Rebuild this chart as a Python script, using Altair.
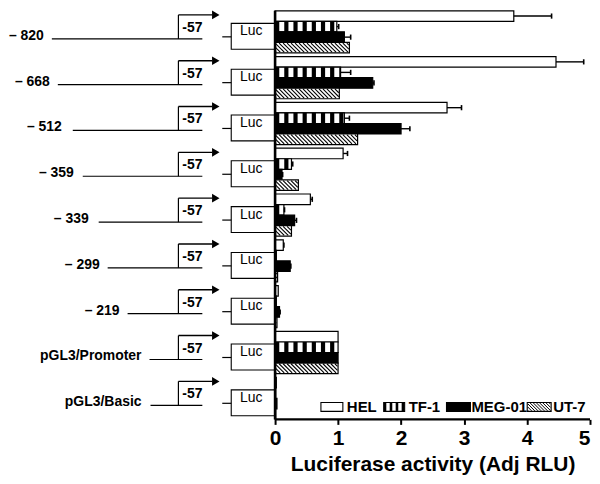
import altair as alt
import pandas as pd

# ---------------- data ----------------
rows = ["– 820", "– 668", "– 512", "– 359", "– 339", "– 299", "– 219",
        "pGL3/Promoter", "pGL3/Basic"]
series = ["HEL", "TF-1", "MEG-01", "UT-7"]
hel = [3.79, 4.46, 2.73, 1.08, 0.56, 0.13, 0.05, 1.00, 0.02]
tf1 = [0.98, 1.04, 1.10, 0.26, 0.14, 0.02, 0.02, 1.00, 0.01]
meg = [1.10, 1.55, 2.00, 0.11, 0.31, 0.24, 0.07, 1.00, 0.03]
ut7 = [1.18, 1.02, 1.31, 0.37, 0.26, 0.04, 0.03, 1.00, 0.01]
hel_err = [4.39, 4.90, 2.96, 1.15, 0.59, 0.14, None, None, None]
tf1_err = [1.01, 1.20, 1.18, 0.28, 0.15, None, None, None, None]
meg_err = [1.20, 1.57, 2.14, 0.12, 0.34, 0.25, 0.08, None, None]
ut7_err = [None] * 9
x_ticks = [0, 1, 2, 3, 4, 5]
x_title = "Luciferase activity (Adj RLU)"
promoter_label = "-57"
reporter_label = "Luc"

values = {"HEL": hel, "TF-1": tf1, "MEG-01": meg, "UT-7": ut7}
errors = {"HEL": hel_err, "TF-1": tf1_err, "MEG-01": meg_err, "UT-7": ut7_err}
fills = {"HEL": "white", "TF-1": "white", "MEG-01": "black", "UT-7": "white"}

# ---------------- layout ----------------
FONT = "Liberation Sans"
W, H = 584, 410
X_UNIT = 63.2          # px per unit
X0 = 268               # plot px of value 0
XMIN = -X0 / X_UNIT
XMAX = (W - X0) / X_UNIT
PI, PO = 0.08, 0.0
n = len(rows)
step = H / (n - PI + 2 * PO)
bw = step * (1 - PI)
sub = bw / len(series)


def v(px):  # plot px -> x value
    return (px - X0) / X_UNIT


def p(val):  # x value -> plot px
    return X0 + val * X_UNIT


def row_top(i):
    return step * (PO + i)


def row_c(i):
    return row_top(i) + bw / 2


bar_recs = []
for i, r in enumerate(rows):
    for s in series:
        bar_recs.append({"row": r, "series": s, "value": values[s][i]})
bars_df = pd.DataFrame(bar_recs)

rules = []
rects = []


def add_rule(x1, x2, y1, y2, sw):
    rules.append({"x": x1, "x2": x2, "y": y1, "y2": y2, "sw": sw})


def stripes(xa, xb, ya, yb, period=9.2, width=4.2):
    k = 0
    while True:
        s0 = xa + k * period
        if s0 >= xb:
            break
        s1 = min(s0 + width, xb)
        rects.append({"x": v(s0), "x2": v(s1), "y": ya, "y2": yb,
                      "fill": "black", "stroke": "black", "sw": 0})
        k += 1


def hatch(xa, xb, ya, yb, spacing=4.0, sw=1.1):
    h = yb - ya
    c = xa - h - ((xa - h - X0) % spacing)
    while c < xb:
        t0 = max(0.0, xa - c)
        t1 = min(h, xb - c)
        if t1 > t0:
            add_rule(v(c + t0), v(c + t1), ya + t0, ya + t1, sw)
        c += spacing


for i, r in enumerate(rows):
    for j, s in enumerate(series):
        top = row_top(i) + j * sub
        val = values[s][i]
        xa, xb = p(0) + 0.6, p(val) - 0.6
        if s == "TF-1" and xb > xa:
            stripes(p(0), p(val), top, top + sub)
        if s == "UT-7" and xb > xa:
            hatch(xa, xb, top + 0.7, top + sub - 0.7)
        e = errors[s][i]
        if e is not None:
            cy = top + sub / 2
            add_rule(val, e, cy, cy, 1.4)
            add_rule(e, e, cy - 2.6, cy + 2.6, 1.6)

# promoter diagram
labels_right = [44, 50, 62, 74, 89, 100, 120, 142, 142]
line_start = [52, 58, 73, 83, 99, 108, 128, 150, 151]
lab_recs, p57_recs, luc_recs, arrow_recs = [], [], [], []
for i, r in enumerate(rows):
    c = row_c(i)
    ly = c + 7
    ty = c - 17
    add_rule(v(line_start[i] - 8), v(195), ly, ly, 1.2)
    add_rule(v(171), v(171), ly, ty, 1.2)
    add_rule(v(171), v(205), ty, ty, 1.4)
    arrow_recs.append({"x": v(208.5), "y": ty})
    add_rule(v(215), v(224), c + 5, c + 5, 1.2)
    rects.append({"x": v(224), "x2": 0, "y": c - 8.5, "y2": c + 17.5,
                  "fill": "white", "stroke": "black", "sw": 1.1})
    lab_recs.append({"x": v(labels_right[i] - 8), "y": c + 4, "t": r})
    p57_recs.append({"x": v(185), "y": c - 4, "t": promoter_label})
    luc_recs.append({"x": v(244), "y": c - 0.5, "t": reporter_label})

# axis lines
add_rule(0, 0, 0, H, 2.6)
add_rule(0, 5, H, H, 2.4)

# legend
leg_box = [(314, 336), (377, 398), (440, 464), (521, 545)]
leg_text = [340, 402, 465, 547]
ly0, ly1 = H - 17, H - 8
leg_recs = []
for s, (a, b), tx in zip(series, leg_box, leg_text):
    rects.append({"x": v(a), "x2": v(b), "y": ly0, "y2": ly1,
                  "fill": fills[s], "stroke": "black", "sw": 1.1})
    if s == "TF-1":
        stripes(a, b, ly0, ly1, period=6.0, width=2.6)
    if s == "UT-7":
        hatch(a + 0.6, b - 0.6, ly0 + 0.6, ly1 - 0.6, spacing=3.2, sw=1.0)
    leg_recs.append({"x": v(tx), "y": (ly0 + ly1) / 2, "t": s})

rules_df = pd.DataFrame(rules)
rects_df = pd.DataFrame(rects)
rects_white = rects_df[rects_df["fill"] != "black"]
rects_black = rects_df[rects_df["fill"] == "black"]

# ---------------- chart ----------------
xscale = alt.Scale(domain=[XMIN, XMAX], nice=False, zero=False)
pyscale = alt.Scale(domain=[0, H], reverse=True, nice=False, zero=False)
AX = alt.Axis(values=x_ticks, domain=False, grid=False,
              tickSize=5, tickWidth=2, tickColor="black",
              labelFont=FONT, labelFontSize=21, labelFontWeight="bold",
              labelColor="black", labelPadding=3, labelFlush=True,
              titleFont=FONT, titleFontSize=21, titleFontWeight="bold",
              titleColor="black", titleX=X0 + 2.5 * X_UNIT,
              titleY=51, titleBaseline="alphabetic",
              titleAnchor="middle", titleAlign="center")


def X(field):
    return alt.X(field, scale=xscale, axis=AX, title=x_title)


bars = alt.Chart(bars_df).mark_bar(stroke="black", strokeWidth=1.2).encode(
    x=X("value:Q"),
    x2=alt.datum(0),
    y=alt.Y("row:N", sort=rows, axis=None,
            scale=alt.Scale(domain=rows, paddingInner=PI, paddingOuter=PO)),
    yOffset=alt.YOffset("series:N", sort=series,
                        scale=alt.Scale(domain=series, paddingInner=0, paddingOuter=0)),
    fill=alt.Fill("series:N", scale=alt.Scale(domain=series,
                                              range=[fills[s] for s in series]),
                  legend=None),
)


def rect_layer(df):
    return alt.Chart(df).mark_rect().encode(
        x=X("x:Q"),
        x2="x2:Q",
        y=alt.Y("y:Q", scale=pyscale, axis=None),
        y2="y2:Q",
        fill=alt.Fill("fill:N", scale=None),
        stroke=alt.Stroke("stroke:N", scale=None),
        strokeWidth=alt.StrokeWidth("sw:Q", scale=None),
    )


rule_layer = alt.Chart(rules_df).mark_rule(color="black").encode(
    x=X("x:Q"),
    x2="x2:Q",
    y=alt.Y("y:Q", scale=pyscale, axis=None),
    y2="y2:Q",
    strokeWidth=alt.StrokeWidth("sw:Q", scale=None),
)

arrow_layer = alt.Chart(pd.DataFrame(arrow_recs)).mark_point(
    shape="triangle-right", filled=True, color="black", size=75, opacity=1
).encode(
    x=X("x:Q"),
    y=alt.Y("y:Q", scale=pyscale, axis=None),
)


def text_layer(recs, align, weight, size):
    return alt.Chart(pd.DataFrame(recs)).mark_text(
        align=align, baseline="middle", font=FONT, fontWeight=weight,
        fontSize=size, color="black"
    ).encode(
        x=X("x:Q"),
        y=alt.Y("y:Q", scale=pyscale, axis=None),
        text="t:N",
    )


chart = alt.layer(
    bars,
    rect_layer(rects_white),
    rect_layer(rects_black),
    rule_layer,
    arrow_layer,
    text_layer(lab_recs, "right", "bold", 14),
    text_layer(p57_recs, "center", "bold", 14),
    text_layer(luc_recs, "center", "normal", 14),
    text_layer(leg_recs, "left", "bold", 15),
).resolve_scale(y="independent").properties(
    width=W, height=H, padding=0
).configure_view(stroke=None)

chart.save("out.html", embed_options={"renderer": "svg", "actions": False})
